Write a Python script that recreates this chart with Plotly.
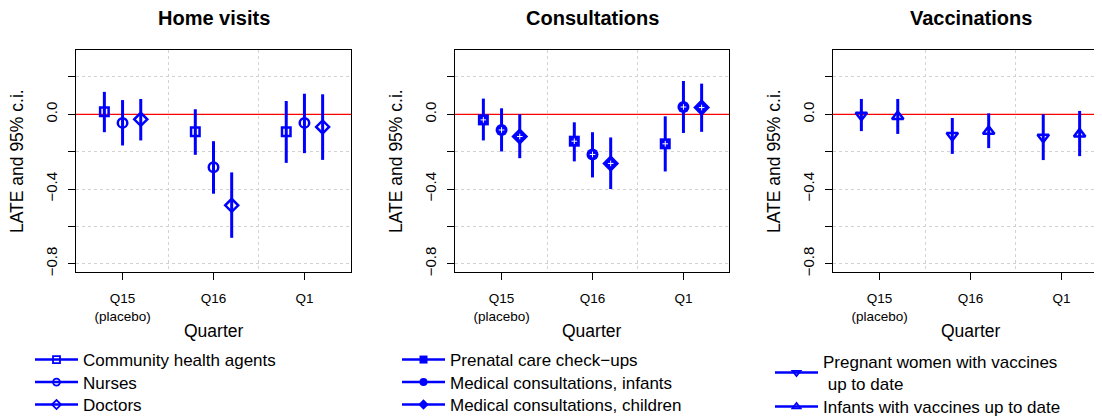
import plotly.graph_objects as go

# ---------------- data ----------------
quarters = ["Q15", "Q16", "Q1"]
quarter_pos = [1, 2, 3]
quarter_ticktext = ["Q15<br>(placebo)", "Q16", "Q1"]

# Home visits
cha_est = [0.014, -0.094, -0.094]
cha_lo = [-0.096, -0.217, -0.260]
cha_hi = [0.120, 0.027, 0.071]
nur_est = [-0.046, -0.284, -0.046]
nur_lo = [-0.167, -0.425, -0.208]
nur_hi = [0.076, -0.144, 0.110]
doc_est = [-0.027, -0.487, -0.068]
doc_lo = [-0.140, -0.661, -0.244]
doc_hi = [0.082, -0.311, 0.107]

# Consultations
pre_est = [-0.030, -0.144, -0.158]
pre_lo = [-0.140, -0.252, -0.306]
pre_hi = [0.084, -0.043, -0.011]
inf_est = [-0.084, -0.215, 0.039]
inf_lo = [-0.199, -0.338, -0.100]
inf_hi = [0.032, -0.096, 0.178]
chi_est = [-0.119, -0.263, 0.036]
chi_lo = [-0.235, -0.400, -0.094]
chi_hi = [0.000, -0.124, 0.164]

# Vaccinations
preg_est = [-0.005, -0.113, -0.123]
preg_lo = [-0.090, -0.212, -0.245]
preg_hi = [0.082, -0.020, 0.000]
infv_est = [-0.012, -0.091, -0.105]
infv_lo = [-0.105, -0.181, -0.224]
infv_hi = [0.082, 0.005, 0.018]

panel_titles = ["Home visits", "Consultations", "Vaccinations"]
y_ticks = [0.2, 0.0, -0.2, -0.4, -0.6, -0.8]
y_ticktext = ["", "0.0", "", "\u22120.4", "", "\u22120.8"]
y_grid = [0.2, -0.2, -0.4, -0.6, -0.8]

panels = [
    [  # (name, est, lo, hi, offset, symbol, size, filled)
        ("Community health agents", cha_est, cha_lo, cha_hi, -0.2, "square-open", 8.5, False),
        ("Nurses", nur_est, nur_lo, nur_hi, 0.0, "circle-open", 9.5, False),
        ("Doctors", doc_est, doc_lo, doc_hi, 0.2, "diamond-open", 10, False),
    ],
    [
        ("Prenatal care check\u2212ups", pre_est, pre_lo, pre_hi, -0.2, "square", 11, True),
        ("Medical consultations, infants", inf_est, inf_lo, inf_hi, 0.0, "circle", 12, True),
        ("Medical consultations, children", chi_est, chi_lo, chi_hi, 0.2, "diamond", 13, True),
    ],
    [
        ("Pregnant women with vaccines<br> up to date", preg_est, preg_lo, preg_hi, -0.2, "triangle-down-open", 10, False),
        ("Infants with vaccines up to date", infv_est, infv_lo, infv_hi, 0.2, "triangle-up-open", 10, False),
    ],
]

BLUE = "#0000FF"
FONT = "Liberation Sans, Arial, Helvetica, sans-serif"
OFF = 8                      # default page body margin
W, H = 1102 - OFF, 419 - OFF

def fx(px):                  # window pixel -> paper fraction (x)
    return (px - OFF) / W

def fy(py):                  # window pixel -> paper fraction (y)
    return 1 - (py - OFF) / H

# pixel layout in window coordinates
x_dom_px = [(76, 351), (455, 729), (833, 1102)]
virtual_right = [351, 729, 1108]
y_top_px, y_bot_px = 50, 272
px_per_unit = (351 - 76) / (3.512 - 0.488)

# legend placement (one legend box per entry), window pixel positions
legend_x_px = [30, 397, 770]
legend_tops_px = [[342, 364.5, 387], [342, 364.5, 387], [344, 389]]

fig = go.Figure()
layout = dict(
    width=W, height=H, margin=dict(l=0, r=0, t=0, b=0, autoexpand=False),
    paper_bgcolor="white", plot_bgcolor="white",
    font=dict(family=FONT, color="black"),
    showlegend=True,
)

leg_idx = 0
for p, series in enumerate(panels):
    xa = "x" if p == 0 else f"x{p + 1}"
    ya = "y" if p == 0 else f"y{p + 1}"
    for k, (name, est, lo, hi, off, sym, size, filled) in enumerate(series):
        xs = [q + off for q in quarter_pos]
        fig.add_trace(go.Scatter(
            x=xs, y=est, mode="markers", xaxis=xa, yaxis=ya,
            showlegend=False, name=name, text=quarters,
            marker=dict(symbol=sym, size=size, color=BLUE,
                        line=dict(color=BLUE, width=2.5 if not filled else 0)),
            error_y=dict(type="data", symmetric=False,
                         array=[h - e for h, e in zip(hi, est)],
                         arrayminus=[e - l for e, l in zip(est, lo)],
                         color=BLUE, thickness=3, width=0),
        ))
        if filled:
            fig.add_trace(go.Scatter(
                x=xs, y=est, mode="markers", xaxis=xa, yaxis=ya,
                showlegend=False, hoverinfo="skip",
                marker=dict(symbol="cross-thin", size=4,
                            line=dict(color="white", width=1)),
            ))
        leg_idx += 1
        lkey = "legend" if leg_idx == 1 else f"legend{leg_idx}"
        # legend entry (line + marker like R's legend)
        fig.add_trace(go.Scatter(
            x=[None], y=[None], mode="lines+markers", xaxis=xa, yaxis=ya,
            name=name, legend=lkey,
            line=dict(color=BLUE, width=2.5),
            marker=dict(symbol=sym, size=7 if not filled else 8, color=BLUE,
                        line=dict(color=BLUE, width=1.8 if not filled else 0)),
        ))
        layout[lkey] = dict(
            x=fx(legend_x_px[p]), y=fy(legend_tops_px[p][k]),
            xanchor="left", yanchor="top", xref="paper", yref="paper",
            bgcolor="rgba(0,0,0,0)", borderwidth=0,
            font=dict(family=FONT, size=17, color="black"),
            itemwidth=43, valign="middle",
        )

axis_common = dict(
    showline=True, linecolor="black", linewidth=1,
    ticks="outside", ticklen=7, tickwidth=1, tickcolor="black",
    zeroline=False,
)
grid_style = dict(showgrid=True, gridcolor="#D2D2D2", griddash="dot", gridwidth=1, ticks="")

annotations = []
shapes = []
for p in range(3):
    l, r = x_dom_px[p]
    suffix = "" if p == 0 else str(p + 1)
    xmax = 0.488 + (min(r, 1102) - l) / px_per_unit
    layout["xaxis" + suffix] = dict(
        axis_common,
        domain=[fx(l), min(fx(r), 1.0)], anchor="y" + suffix,
        range=[0.488, xmax], tickmode="array", tickvals=quarter_pos,
        ticktext=quarter_ticktext, showgrid=False, mirror=True,
        ticklabelstandoff=7,
        tickfont=dict(family=FONT, size=13.5, color="black"),
        minor=dict(grid_style, tickmode="array", tickvals=[1.5, 2.5]),
    )
    layout["yaxis" + suffix] = dict(
        axis_common,
        domain=[fy(y_bot_px), fy(y_top_px)], anchor="x" + suffix,
        range=[-0.844, 0.344], tickmode="array", tickvals=y_ticks,
        ticktext=y_ticktext, tickangle=-90, showgrid=False,
        minor=dict(grid_style, tickmode="array", tickvals=y_grid),
        mirror=(p != 2), ticklabelstandoff=5,
        tickfont=dict(family=FONT, size=15, color="black"),
    )
    cx = (l + virtual_right[p]) / 2
    annotations.append(dict(
        text="<b>" + panel_titles[p] + "</b>", x=fx(cx), y=fy(18),
        xref="paper", yref="paper", xanchor="center", yanchor="middle",
        showarrow=False, font=dict(family=FONT, size=20, color="black"),
    ))
    annotations.append(dict(
        text="Quarter", x=fx(cx), y=fy(331),
        xref="paper", yref="paper", xanchor="center", yanchor="middle",
        showarrow=False, font=dict(family=FONT, size=17.5, color="black"),
    ))
    annotations.append(dict(
        text="LATE and 95% c.i.", x=fx(l - 59), y=fy(161),
        xref="paper", yref="paper", xanchor="center", yanchor="middle",
        textangle=-90, showarrow=False,
        font=dict(family=FONT, size=17.5, color="black"),
    ))
    shapes.append(dict(
        type="line", xref=f"x{suffix} domain", yref="y" + suffix,
        x0=0, x1=1, y0=0, y1=0, line=dict(color="red", width=1.2), layer="below",
    ))

layout["annotations"] = annotations
layout["shapes"] = shapes
fig.update_layout(**layout)

fig.write_html("out.html")
